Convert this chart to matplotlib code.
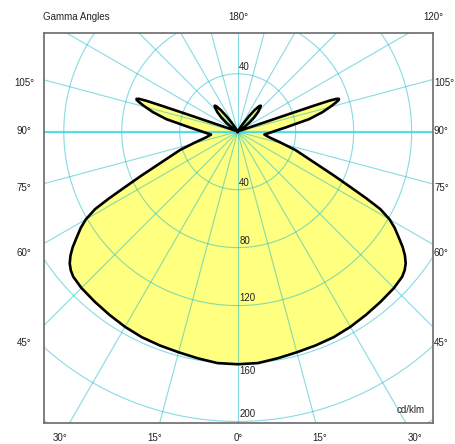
import numpy as np
import matplotlib
matplotlib.use("Agg")
import matplotlib.pyplot as plt

# luminous intensity (cd/klm) vs gamma angle, same for C0 and C180 half planes
gamma = [0, 5, 10, 15, 20, 25, 30, 35, 40, 45, 48.6, 50.3, 51.9, 53.5, 55, 56.8,
         58.5, 60, 61.5, 62.6, 63.8, 65.5, 68.5, 72.4, 76, 80, 84, 88, 92, 95,
         100, 103, 105.5, 106.7, 107.4, 108.0, 108.4, 108.7, 108.85, 109.0,
         109.5, 111, 115, 120, 125, 128, 131, 134, 137, 138.5, 140, 142, 144,
         147, 151, 160, 180]
intensity = [160.5, 160.3, 158.8, 157.6, 157.0, 156.5, 155.5, 154.3, 153.3, 152.5,
             151.3, 149.7, 147.3, 143.5, 139.0, 132.6, 127.0, 121.0, 112.0, 100.0,
             87.0, 73.0, 55.0, 41.8, 30.0, 22.0, 18.5, 22.0, 27.0, 33.0, 50.0,
             60.0, 67.5, 71.0, 73.0, 73.4, 72.0, 67.0, 57.0, 40.0, 15.0, 5.0,
             2.0, 2.0, 5.0, 10.0, 15.0, 19.5, 23.0, 24.0, 23.0, 19.0, 13.0,
             6.0, 1.0, 0.0, 0.0]

rings = [40, 80, 120, 160, 200, 240, 280]
ring_labels = ["40", "80", "120", "160", "200"]
spokes = np.arange(0, 360, 15)

left_labels = ["105°", "90°", "75°", "60°", "45°"]
right_labels = ["105°", "90°", "75°", "60°", "45°"]
bottom_labels = ["30°", "15°", "0°", "15°", "30°"]

W, H = 455, 444
fig = plt.figure(figsize=(W / 100, H / 100), dpi=100)
fig.patch.set_facecolor("white")
ax = fig.add_axes([43.5 / W, (H - 422.5) / H, 389 / W, 389 / H])
ax.set_xlim(-134.0, 134.4)
ax.set_ylim(-200.7, 67.8)
ax.set_xticks([])
ax.set_yticks([])
for s in ax.spines.values():
    s.set_color("#6a6a6a")
    s.set_linewidth(1.2)

g = np.radians(gamma)
r = np.array(intensity)
# left half (C0) from 180 down to 0, then right half (C180) from 0 to 180
xs = np.concatenate([-r[::-1] * np.sin(g[::-1]), r * np.sin(g)])
ys = np.concatenate([-r[::-1] * np.cos(g[::-1]), -r * np.cos(g)])

ax.fill(xs, ys, color="#ffff80", zorder=1, lw=0)

# grid
gc = "#10b8c8"
t = np.linspace(0, 2 * np.pi, 400)
for rv in rings:
    ax.plot(rv * np.cos(t), rv * np.sin(t), color=gc, alpha=0.5, lw=0.8, zorder=2)
for a in spokes:
    ar = np.radians(a)
    ax.plot([0, 400 * np.sin(ar)], [0, -400 * np.cos(ar)], color=gc,
            alpha=0.5, lw=0.8, zorder=2)
ax.axhline(0, color="#40d8ea", lw=1.6, alpha=0.8, zorder=2)

ax.plot(xs, ys, color="black", lw=1.9, zorder=3, solid_joinstyle="round")

fnt = dict(family=["Liberation Sans", "DejaVu Sans"], size=7, color="#222222")

# ring labels
ax.text(1, 41, "40", ha="left", va="bottom", zorder=4, **fnt)
ax.text(1, -39, ring_labels[0], ha="left", va="bottom", zorder=4, **fnt)
ax.text(1, -79, ring_labels[1], ha="left", va="bottom", zorder=4, **fnt)
ax.text(1, -118.5, ring_labels[2], ha="left", va="bottom", zorder=4, **fnt)
ax.text(1, -161.5, ring_labels[3], ha="left", va="top", zorder=4, **fnt)
ax.text(1, -198.5, ring_labels[4], ha="left", va="bottom", zorder=4, **fnt)
ax.text(129, -192, "cd/klm", ha="right", va="center", zorder=4, **fnt)


def px(x, y):
    return x / W, 1 - y / H


side_y = [83, 131, 188, 253, 343]
for lab, yy in zip(left_labels, side_y):
    fig.text(*px(24, yy), lab, ha="center", va="center", **fnt)
for lab, yy in zip(right_labels, side_y):
    fig.text(*px(434, yy), lab, ha="left", va="center", **fnt)
for lab, xx in zip(bottom_labels, [60, 155, 238, 320, 415]):
    fig.text(*px(xx, 438), lab, ha="center", va="center", **fnt)

fig.text(*px(43, 17), "Gamma Angles", ha="left", va="center", **fnt)
fig.text(*px(238, 17), "180°", ha="center", va="center", **fnt)
fig.text(*px(433, 17), "120°", ha="center", va="center", **fnt)

fig.savefig("out.png", dpi=100)
